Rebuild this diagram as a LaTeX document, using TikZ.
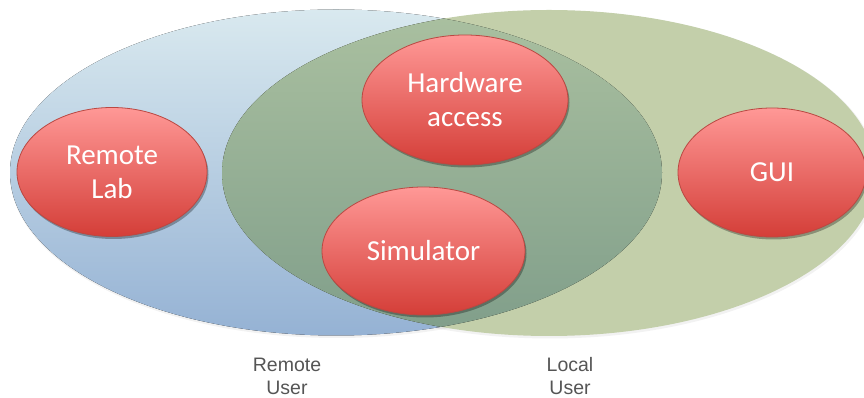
\documentclass[tikz,border=0pt]{standalone}
\usepackage{fontspec}
\setmainfont{Carlito}
\newfontfamily\captionfont{Liberation Sans}
\usetikzlibrary{shapes.geometric,shadows}

\definecolor{blueTop}{RGB}{217,233,239}
\definecolor{blueBot}{RGB}{149,178,212}
\definecolor{greenFill}{RGB}{195,207,170}
\definecolor{overTop}{RGB}{170,192,160}
\definecolor{overBot}{RGB}{128,158,138}
\definecolor{redTop}{RGB}{255,152,150}
\definecolor{redBot}{RGB}{212,62,56}
\definecolor{redLine}{RGB}{186,72,66}
\definecolor{capGray}{RGB}{85,85,85}

\tikzset{
  bubble/.style={ellipse, inner sep=0pt, draw=redLine, line width=0.8pt,
    top color=redTop, bottom color=redBot, text=white, align=center,
    font=\fontsize{29}{34}\selectfont,
    drop shadow={shadow xshift=1.5pt, shadow yshift=-2.5pt, opacity=0.3, fill=black}},
  usercap/.style={align=center, text=capGray, font=\captionfont\fontsize{19.5}{23}\selectfont},
  setshadow/.style={fill=black, opacity=0.05}
}

\begin{document}
\begin{tikzpicture}[x=1pt,y=1pt]
\useasboundingbox (0,0) rectangle (864,398);
\begin{scope}
\clip (0,0) rectangle (864,398);
% soft shadows under the two user sets
\fill[setshadow] (337,224) ellipse [x radius=327, y radius=164];
\fill[setshadow] (550,223.5) ellipse [x radius=328, y radius=164];
% remote user set
\fill[top color=blueTop, bottom color=blueBot] (336,225.5) ellipse [x radius=326, y radius=163];
% local user set
\fill[greenFill] (549,225) ellipse [x radius=327, y radius=163];
% shared part of both sets
\begin{scope}
\clip (336,225.5) ellipse [x radius=326, y radius=163];
\fill[top color=overTop, bottom color=overBot] (549,225) ellipse [x radius=327, y radius=163];
\end{scope}
% components
\node[bubble, minimum width=190pt, minimum height=129pt] (lab) at (112,226) {Remote\\Lab};
\node[bubble, minimum width=206pt, minimum height=130pt] (hw) at (465,298) {Hardware\\access};
\node[bubble, minimum width=203pt, minimum height=128pt] (sim) at (423.5,147) {Simulator};
\node[bubble, minimum width=188pt, minimum height=129pt] (gui) at (772,225.5) {GUI};
\end{scope}
% set captions
\node[usercap] (remote) at (287,21.5) {Remote\\User};
\node[usercap] (local) at (570,21.5) {Local\\User};
\end{tikzpicture}
\end{document}
